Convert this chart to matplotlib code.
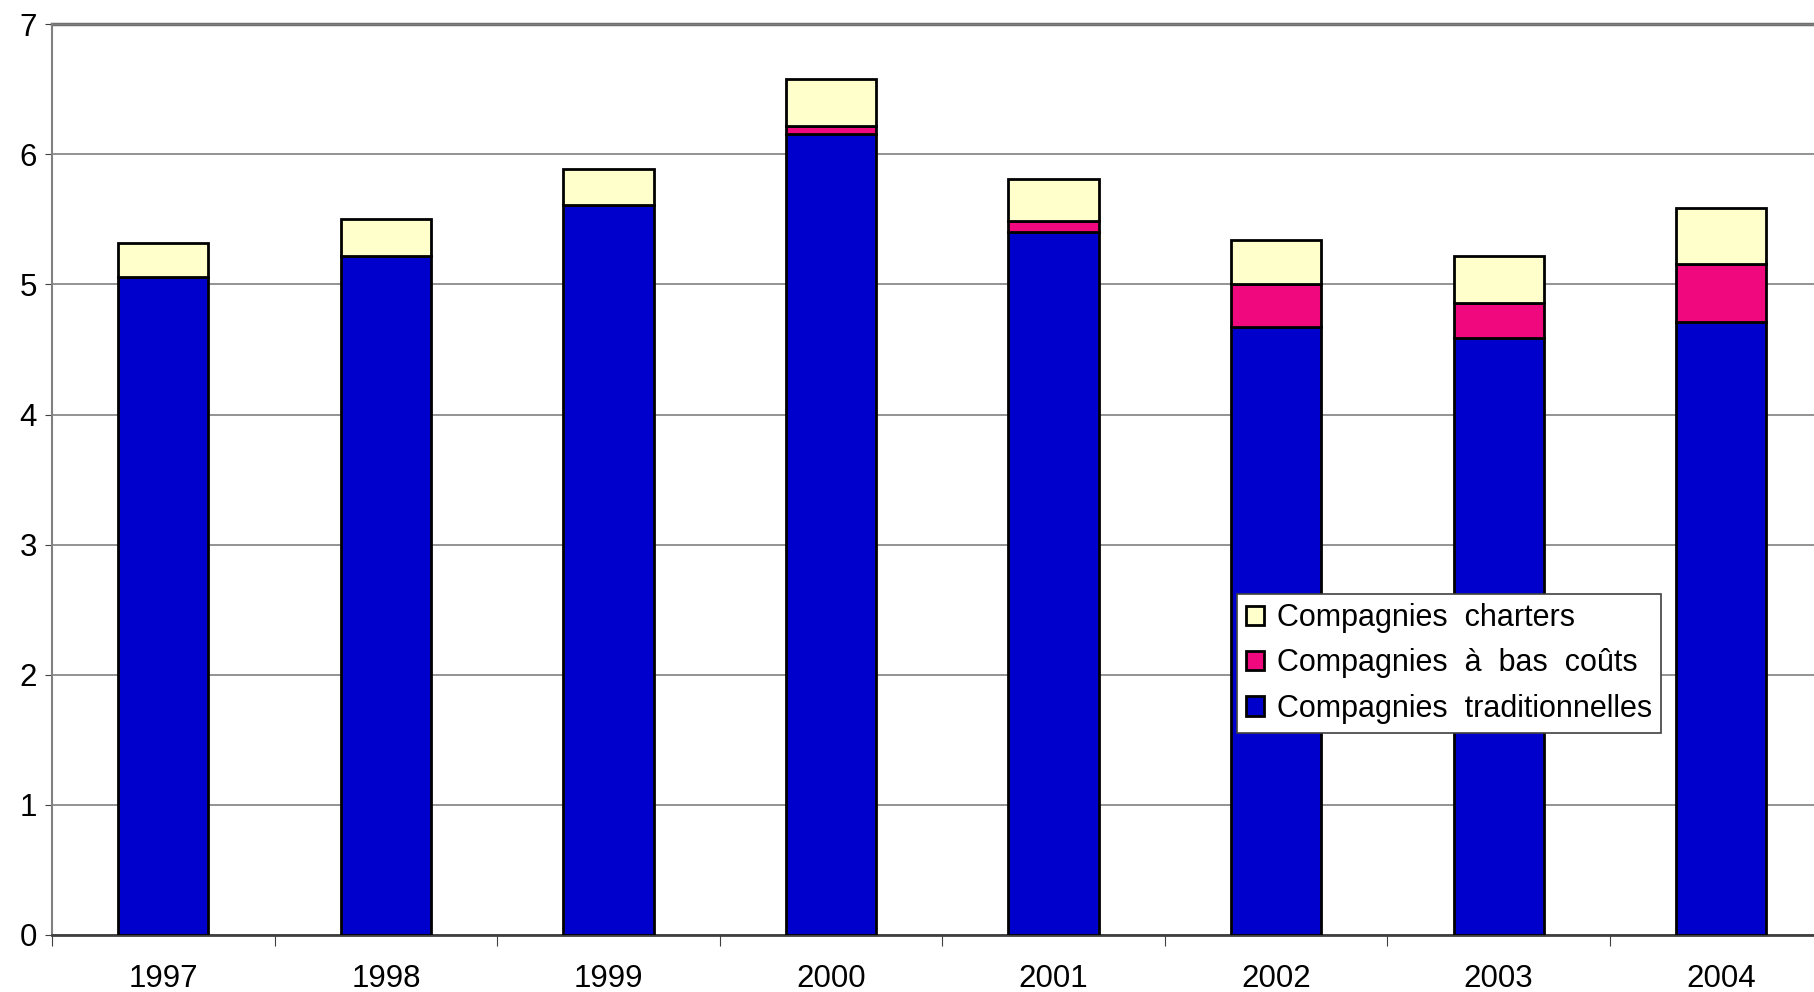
import matplotlib.pyplot as plt
import numpy as np

plt.rcParams['font.family'] = ['Liberation Sans', 'DejaVu Sans']

years = ['1997', '1998', '1999', '2000', '2001', '2002', '2003', '2004']
traditionnelles = [5.06, 5.22, 5.61, 6.16, 5.40, 4.67, 4.59, 4.71]
bas_couts = [0.0, 0.0, 0.0, 0.06, 0.09, 0.33, 0.27, 0.45]
charters = [0.26, 0.28, 0.28, 0.36, 0.32, 0.34, 0.36, 0.43]

labels = ['Compagnies  charters', 'Compagnies  à  bas  coûts', 'Compagnies  traditionnelles']
colors = ['#FFFFCC', '#F0087F', '#0000CC']

fig = plt.figure(figsize=(18.14, 9.92), dpi=100)
ax = fig.add_axes([0.0287, 0.0575, 0.9815, 0.918])

x = np.arange(len(years))
w = 0.405
trad = np.array(traditionnelles)
low = np.array(bas_couts)
ch = np.array(charters)

b_trad = ax.bar(x, trad, w, color=colors[2], edgecolor='black', linewidth=2, zorder=3)
b_low = ax.bar(x, low, w, bottom=trad, color=colors[1], edgecolor='black', linewidth=2, zorder=3)
b_ch = ax.bar(x, ch, w, bottom=trad + low, color=colors[0], edgecolor='black', linewidth=2, zorder=3)

ax.set_xlim(-0.5, len(years) - 0.5)
ax.set_ylim(0, 7)
ax.set_yticks(range(0, 8))
ax.yaxis.grid(True, color='#808080', linewidth=1.2, zorder=0)
ax.axhline(7, color='#707070', linewidth=2.5, zorder=1, clip_on=False)

# ticks between categories, labels centered
ax.set_xticks(np.arange(-0.5, len(years), 1.0))
ax.set_xticklabels([])
ax.set_xticks(x, minor=True)
ax.set_xticklabels(years, minor=True)
ax.tick_params(axis='x', which='minor', length=0, pad=21, labelsize=22.5)
ax.tick_params(axis='x', which='major', length=8, color='#404040')
ax.tick_params(axis='y', length=5, pad=6, labelsize=22.5, color='#404040')

for s in ['top', 'right']:
    ax.spines[s].set_visible(False)
ax.spines['left'].set_color('#808080')
ax.spines['left'].set_linewidth(1.5)
ax.spines['bottom'].set_color('#404040')
ax.spines['bottom'].set_linewidth(2)

leg = ax.legend([b_ch, b_low, b_trad], labels, loc='lower left',
                bbox_to_anchor=(0.6655, 0.222), borderaxespad=0,
                fontsize=22, frameon=True, fancybox=False, framealpha=1,
                handlelength=0.6, handleheight=0.6, handletextpad=0.4,
                labelspacing=0.5, borderpad=0.3)
leg.get_frame().set_edgecolor('#404040')
leg.get_frame().set_linewidth(1.2)

fig.savefig('out.png', dpi=100)
